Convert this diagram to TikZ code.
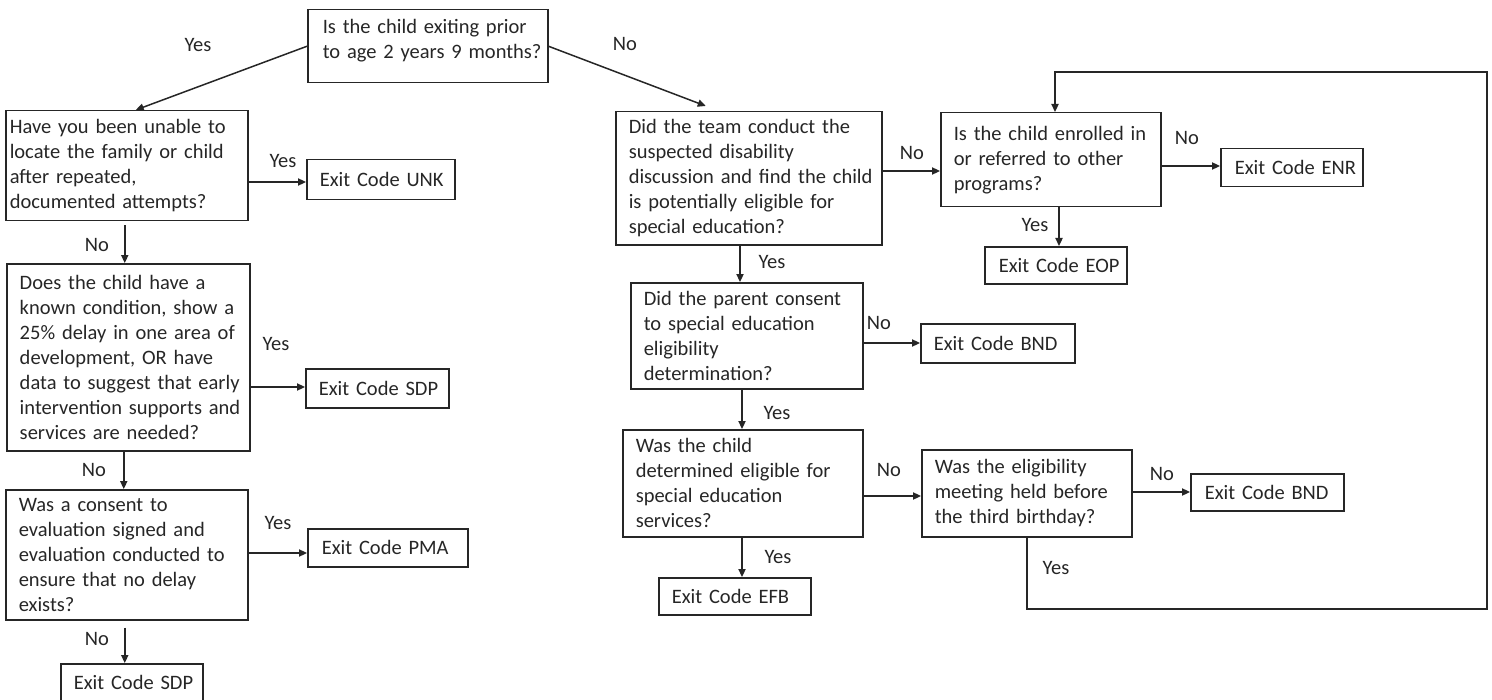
\documentclass[tikz,border=0pt]{standalone}
\usepackage{fontspec}
\setmainfont{Carlito}
\usetikzlibrary{arrows.meta,calc}
\definecolor{ink}{RGB}{38,38,38}
\newcommand\nb[1]{\mbox{#1}}
\begin{document}
\begin{tikzpicture}[x=0.5pt,y=-0.5pt,
  every node/.style={font=\fontsize{10.25pt}{12.5pt}\selectfont, text=ink},
  box/.style={draw=ink, line width=0.75pt, anchor=north west, align=left, inner ysep=0pt},
  lbl/.style={inner sep=0pt},
  arr/.style={draw=ink, line width=0.75pt, -{Triangle[length=4pt,width=3.6pt]}}]
\useasboundingbox (0,0) rectangle (1492,700);

% ---------- boxes ----------
\node[box, text width=105pt, inner xsep=7.5pt, minimum height=36.5pt] (T) at (307,9)
  {\nb{Is the child exiting prior}\\\nb{to age 2 years 9 months?}\rule[-7.5pt]{0pt}{0pt}};

\node[box, text width=117pt, inner xsep=2pt, minimum height=55pt] (A1) at (5,110)
  {\nb{Have you been unable to}\\\nb{locate the family or child}\\\nb{after repeated,}\\\nb{documented attempts?}};
\node[box, text width=61pt, inner xsep=6.5pt, minimum height=20pt] (UNK) at (306,159)
  {\nb{Exit Code UNK}};

\node[box, text width=108.5pt, inner xsep=6.5pt, minimum height=93.5pt] (A2) at (6,263)
  {\nb{Does the child have a}\\\nb{known condition, show a}\\\nb{25\% delay in one area of}\\\nb{development, OR have}\\\nb{data to suggest that early}\\\nb{intervention supports and}\\\nb{services are needed?}};
\node[box, text width=58.5pt, inner xsep=6.5pt, minimum height=19.5pt] (SDPa) at (305,368)
  {\nb{Exit Code SDP}};

\node[box, text width=108pt, inner xsep=6.5pt, minimum height=65pt] (A3) at (5,489)
  {\nb{Was a consent to}\\\nb{evaluation signed and}\\\nb{evaluation conducted to}\\\nb{ensure that no delay}\\\nb{exists?}};
\node[box, text width=66pt, inner xsep=7pt, minimum height=19pt] (PMA) at (307,528)
  {\nb{Exit Code PMA}};
\node[box, text width=58pt, inner xsep=6.5pt, minimum height=19pt] (SDPb) at (60,663)
  {\nb{Exit Code SDP}};

\node[box, text width=120pt, inner xsep=6.5pt, minimum height=66.5pt] (B1) at (615,111)
  {\nb{Did the team conduct the}\\\nb{suspected disability}\\\nb{discussion and find the child}\\\nb{is potentially eligible for}\\\nb{special education?}};
\node[box, text width=97pt, inner xsep=6.5pt, minimum height=47pt] (B2) at (940,112)
  {\nb{Is the child enrolled in}\\\nb{or referred to other}\\\nb{programs?}};
\node[box, text width=57pt, inner xsep=7pt, minimum height=19pt] (ENR) at (1220,148)
  {\nb{Exit Code ENR}};
\node[box, text width=57pt, inner xsep=7pt, minimum height=18.5pt] (EOP) at (984,246)
  {\nb{Exit Code EOP}};

\node[box, text width=103pt, inner xsep=6.5pt, minimum height=53pt] (C1) at (630,282)
  {\nb{Did the parent consent}\\\nb{to special education}\\\nb{eligibility}\\\nb{determination?}};
\node[box, text width=64pt, inner xsep=6.5pt, minimum height=19.5pt] (BNDa) at (920,323)
  {\nb{Exit Code BND}};

\node[box, text width=107pt, inner xsep=6.5pt, minimum height=53.5pt] (D1) at (622,429)
  {\nb{Was the child}\\\nb{determined eligible for}\\\nb{special education}\\\nb{services?}};
\node[box, text width=92pt, inner xsep=6.5pt, minimum height=43.5pt] (D2) at (921,449)
  {\nb{Was the eligibility}\\\nb{meeting held before}\\\nb{the third birthday?}};
\node[box, text width=62.5pt, inner xsep=7pt, minimum height=18.5pt] (BNDb) at (1190,473)
  {\nb{Exit Code BND}};
\node[box, text width=63pt, inner xsep=6.5pt, minimum height=18.5pt] (EFB) at (658,577)
  {\nb{Exit Code EFB}};

% ---------- connectors ----------
\draw[arr] (T.west) -- ($(A1.north)+(9,0)$);
\draw[arr] (T.east) -- ($(B1.north)+(-43,-5)$);

\draw[arr] (A1.east |- 0,182) -- (UNK.west |- 0,182);
\draw[arr] ($(A1.south)+(-2,4)$) coordinate (p1) -- (p1 |- A2.north);
\draw[arr] (A2.east |- 0,387) -- (SDPa.west |- 0,387);
\draw[arr] ($(A2.south)+(-4.5,0)$) coordinate (p2) -- (p2 |- A3.north);
\draw[arr] (A3.east |- 0,553) -- (PMA.west |- 0,553);
\draw[arr] ($(A3.south)+(-2,7)$) coordinate (p3) -- (p3 |- SDPb.north);

\draw[arr] (B1.east |- 0,171) -- (B2.west |- 0,171);
\draw[arr] (B2.east |- 0,166) -- (ENR.west |- 0,166);
\draw[arr] (B2.south -| 1059,0) -- (EOP.north -| 1059,0);
\draw[arr] (B1.south -| 740,0) -- (C1.north -| 740,0);
\draw[arr] (C1.east |- 0,343) -- (BNDa.west |- 0,343);
\draw[arr] (C1.south -| 742,0) -- (D1.north -| 742,0);
\draw[arr] (D1.east |- 0,496) -- (D2.west |- 0,496);
\draw[arr] (D2.east |- 0,492) -- (BNDb.west |- 0,492);
\draw[arr] (D1.south -| 742,0) -- (EFB.north -| 742,0);

\coordinate (loopBR) at (1487,609);
\coordinate (loopTR) at (1487,72);
\draw[arr] (D2.south -| 1027,0) |- (loopBR) -- (loopTR) -| (B2.north -| 1055,0);

% ---------- labels ----------
\node[lbl] (lT1) at (198,45) {Yes};
\node[lbl] (lT2) at (625,44) {No};
\node[lbl] (lA1y) at (283,161) {Yes};
\node[lbl] (lA1n) at (97,245) {No};
\node[lbl] (lA2y) at (276,344) {Yes};
\node[lbl] (lA2n) at (94,470) {No};
\node[lbl] (lA3y) at (278,523) {Yes};
\node[lbl] (lA3n) at (97,639) {No};
\node[lbl] (lB1n) at (912,153) {No};
\node[lbl] (lB2n) at (1187,138) {No};
\node[lbl] (lB2y) at (1035,225) {Yes};
\node[lbl] (lB1y) at (772,262) {Yes};
\node[lbl] (lC1n) at (879,323) {No};
\node[lbl] (lC1y) at (777,413) {Yes};
\node[lbl] (lD1n) at (889,470) {No};
\node[lbl] (lD2n) at (1162,474) {No};
\node[lbl] (lD1y) at (778,557) {Yes};
\node[lbl] (lD2y) at (1056,568) {Yes};
\end{tikzpicture}
\end{document}
